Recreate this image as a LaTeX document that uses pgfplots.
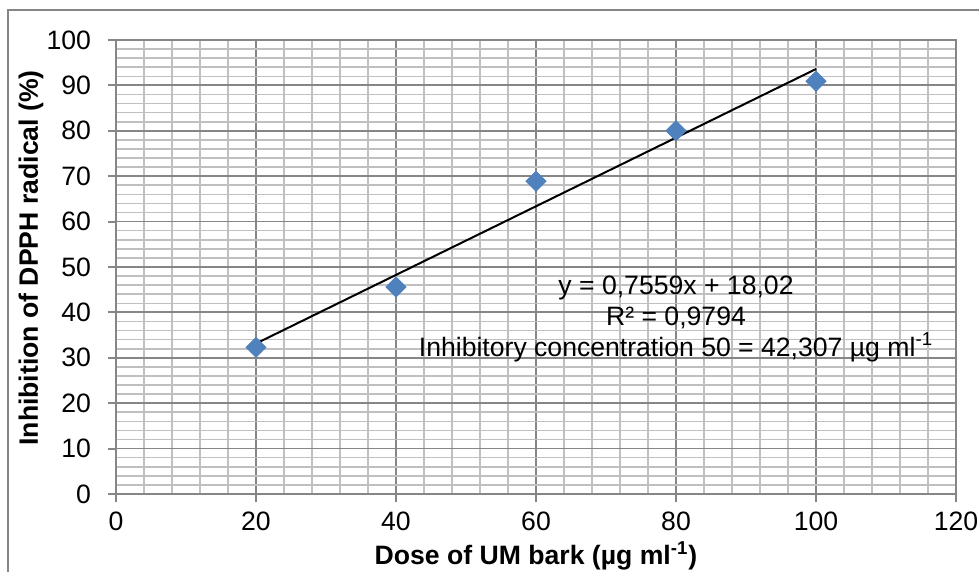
\documentclass[border=0pt]{standalone}
\usepackage{fontspec}
\setmainfont{Liberation Sans}
\usepackage{pgfplots}
\pgfplotsset{compat=1.18}
\definecolor{majgrid}{RGB}{134,134,134}
\definecolor{mingrid}{RGB}{192,192,192}
\definecolor{markblue}{RGB}{79,129,189}
\begin{document}
\begin{tikzpicture}
\useasboundingbox (-58pt,-39pt) rectangle (431.5pt,247pt);
\draw[majgrid, line width=0.8pt] (-54pt,-45pt) -- (-54pt,242pt) -- (440pt,242pt);
\begin{axis}[
  at={(0pt,0pt)}, anchor=south west,
  scale only axis, width=420pt, height=227pt,
  xmin=0, xmax=120, ymin=0, ymax=100,
  xtick={0,20,...,120}, ytick={0,10,...,100},
  minor x tick num=4, minor y tick num=4,
  grid=both,
  major grid style={majgrid, line width=0.9pt},
  minor grid style={mingrid, line width=0.8pt},
  axis line style={majgrid, line width=1pt},
  tick style={majgrid, line width=1pt},
  major tick length=4pt, minor tick length=0pt,
  tick align=outside, tick pos=left,
  /pgf/number format/assume math mode=true,
  ticklabel style={font=\fontsize{13.3}{16}\selectfont},
  yticklabel style={xshift=-5pt},
  xticklabel style={yshift=-1.5pt},
  xlabel={Dose of UM bark (µg ml\textsuperscript{-1})},
  ylabel={Inhibition of DPPH radical (\%)},
  label style={font=\bfseries\fontsize{13.3}{16}\selectfont},
  xlabel style={at={(axis description cs:0.5,-0.1366)}, anchor=center},
  ylabel style={at={(axis description cs:-0.1012,0.52)}, anchor=center},
]
\addplot[only marks, mark=square*, mark size=3.54pt,
  mark options={rotate=45, fill=markblue, draw=markblue}]
  coordinates {(20,32.3) (40,45.6) (60,68.9) (80,80.0) (100,90.9)};
\addplot[black, line width=1pt] coordinates {(20,33.138) (100,93.61)};
\node[align=center, font=\fontsize{13.3}{15.5}\selectfont] at (axis cs:80,38.6)
  {y = 0,7559x + 18,02\\R² = 0,9794\\Inhibitory concentration 50 = 42,307 µg ml\textsuperscript{-1}};
\end{axis}
\end{tikzpicture}
\end{document}
